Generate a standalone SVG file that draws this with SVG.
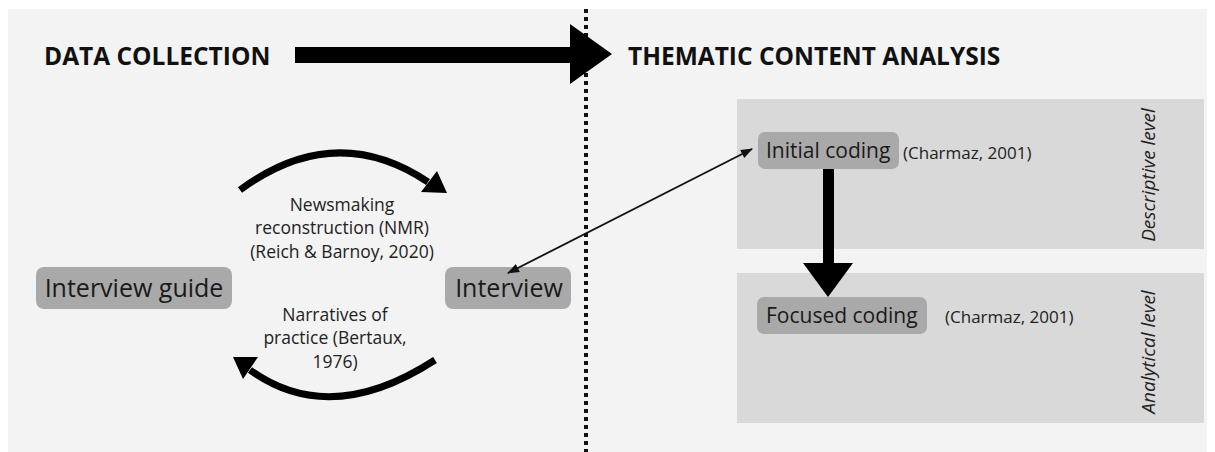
<svg xmlns="http://www.w3.org/2000/svg" width="1215" height="452" viewBox="0 0 1215 452">
<style>
.title{font-family:"Open Sans","Liberation Sans",sans-serif;font-weight:bold;font-size:24.5px;fill:#111}
.node{fill:#a9a9a9}
.nt{font-family:"Open Sans","Liberation Sans",sans-serif;fill:#1a1a1a}
.lbl{font-family:"Open Sans","Liberation Sans",sans-serif;font-size:17.5px;fill:#222;text-anchor:middle}
.cite{font-family:"Open Sans","Liberation Sans",sans-serif;font-size:17px;fill:#222}
.lvl{font-family:"Open Sans","Liberation Sans",sans-serif;font-size:19px;font-style:italic;fill:#222;text-anchor:middle}
.panel{fill:#d9d9d9}
</style>
<defs>
<marker id="ah" markerWidth="12" markerHeight="12" refX="11" refY="6" orient="auto-start-reverse" markerUnits="userSpaceOnUse">
<path d="M0,1.5 L12,6 L0,10.5 Z" fill="#111"/>
</marker>
</defs>
<rect width="1215" height="452" fill="#fff"/>
<rect x="8" y="9" width="1199" height="443" fill="#f3f3f3"/>
<g id="panel-descriptive">
<rect class="panel" x="737" y="99" width="467" height="150"/>
<text class="lvl" transform="translate(1155,175) rotate(-90)">Descriptive level</text>
</g>
<g id="panel-analytical">
<rect class="panel" x="737" y="273" width="467" height="150"/>
<text class="lvl" transform="translate(1155,352) rotate(-90)">Analytical level</text>
</g>
<g id="header-left"><text class="title" x="44" y="65">DATA COLLECTION</text></g>
<g id="header-right"><text class="title" x="628" y="65">THEMATIC CONTENT ANALYSIS</text></g>
<g id="interview-guide">
<rect class="node" x="36" y="267" width="196" height="42" rx="8"/>
<text class="nt" x="134" y="297" font-size="25" text-anchor="middle">Interview guide</text>
</g>
<g id="interview">
<rect class="node" x="445" y="267" width="126" height="42" rx="8"/>
<text class="nt" x="509" y="297" font-size="25" text-anchor="middle">Interview</text>
</g>
<g id="nmr-label">
<text class="lbl" x="342" y="211">Newsmaking</text>
<text class="lbl" x="342" y="234">reconstruction (NMR)</text>
<text class="lbl" x="342" y="258">(Reich &amp; Barnoy, 2020)</text>
</g>
<g id="narratives-label">
<text class="lbl" x="335" y="321">Narratives of</text>
<text class="lbl" x="335" y="344">practice (Bertaux,</text>
<text class="lbl" x="335" y="368">1976)</text>
</g>
<g id="initial-coding">
<rect class="node" x="758" y="132" width="141" height="37" rx="7"/>
<text class="nt" x="766" y="158" font-size="21">Initial coding</text>
<text class="cite" x="903" y="159">(Charmaz, 2001)</text>
</g>
<g id="focused-coding">
<rect class="node" x="757" y="297" width="170" height="37" rx="7"/>
<text class="nt" x="766" y="323" font-size="21">Focused coding</text>
<text class="cite" x="945" y="323">(Charmaz, 2001)</text>
</g>
<g id="connectors">
<line x1="586" y1="9" x2="586" y2="452" stroke="#111" stroke-width="4" stroke-dasharray="4 4"/>
<polygon points="295,47 570,47 570,24 612,54 570,84 570,63 295,63" fill="#000"/>
<path d="M240,190 Q335,120 428,182" fill="none" stroke="#000" stroke-width="7"/>
<polygon points="447,193 421,192 437,171" fill="#000"/>
<path d="M435,360 Q330,428 250,370" fill="none" stroke="#000" stroke-width="7"/>
<polygon points="233,357 258,357 243,379" fill="#000"/>
<line x1="752" y1="149" x2="508" y2="273" stroke="#111" stroke-width="1.8" marker-start="url(#ah)" marker-end="url(#ah)"/>
<rect x="823" y="169" width="11" height="96" fill="#000"/>
<polygon points="803,263 853,263 828,297" fill="#000"/>
</g>
</svg>
